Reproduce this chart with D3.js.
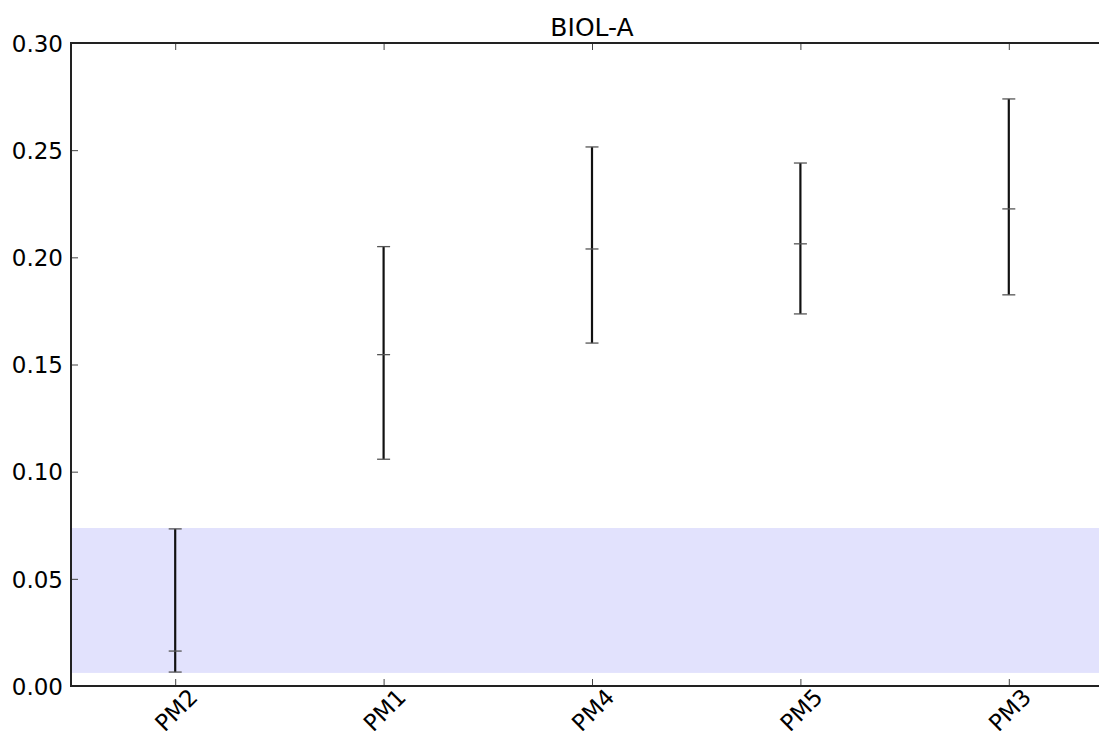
<!DOCTYPE html>
<html>
<head>
<meta charset="utf-8">
<script src="https://cdn.jsdelivr.net/npm/d3@7/dist/d3.min.js"></script>
<style>
  html, body { margin: 0; padding: 0; background: #fff; overflow: hidden; }
  text { font-family: "DejaVu Sans", sans-serif; fill: #000; }
</style>
</head>
<body>
<svg id="chart" width="1099" height="731"></svg>
<script>
// Categories and interval values (lower, centre, upper)
const categories = ["PM2", "PM1", "PM4", "PM5", "PM3"];
const lowerValues = [0.0065, 0.1058, 0.160, 0.1736, 0.1825];
const centerValues = [0.0163, 0.1546, 0.2039, 0.2063, 0.2226];
const upperValues = [0.0733, 0.205, 0.2515, 0.244, 0.2739];
const bandRange = [0.0061, 0.0737];
const yTicks = [0.00, 0.05, 0.10, 0.15, 0.20, 0.25, 0.30];
const title = "BIOL-A";

const svg = d3.select("#chart");
const plotLeft = 71, plotTop = 43, plotBottom = 686, plotRight = 1113;

const x = d3.scalePoint().domain(categories).range([plotLeft, plotRight]).padding(0.5);
const y = d3.scaleLinear().domain([0, 0.30]).range([plotBottom, plotTop]);

// Shaded reference band
svg.append("rect")
  .attr("x", plotLeft).attr("width", plotRight - plotLeft)
  .attr("y", y(bandRange[1]))
  .attr("height", y(bandRange[0]) - y(bandRange[1]))
  .attr("fill", "#e2e2fd");

// Error bars
const rows = categories.map((c, i) => ({ c, lo: lowerValues[i], mid: centerValues[i], hi: upperValues[i] }));
const g = svg.append("g");
rows.forEach(d => {
  const cx = x(d.c);
  g.append("line").attr("x1", cx).attr("x2", cx)
    .attr("y1", y(d.lo)).attr("y2", y(d.hi))
    .attr("stroke", "#111").attr("stroke-width", 2.2);
  [d.lo, d.mid, d.hi].forEach(v => {
    g.append("line").attr("x1", cx - 6.5).attr("x2", cx + 6.5)
      .attr("y1", y(v)).attr("y2", y(v))
      .attr("stroke", "#555").attr("stroke-width", 1.3);
  });
});

// Left axis with inward ticks
const yAxis = d3.axisLeft(y).tickValues(yTicks).tickSize(-7).tickPadding(8)
  .tickFormat(d3.format(".2f"));
const ya = svg.append("g").attr("transform", `translate(${plotLeft},0)`).call(yAxis);
ya.attr("font-family", null).attr("font-size", null);
ya.select(".domain").remove();
ya.selectAll(".tick line").attr("stroke", "#444").attr("stroke-width", 1);
ya.selectAll(".tick text").attr("font-size", 23).attr("dy", "0.36em").attr("fill", "#000");

// Bottom axis with inward ticks
const xAxis = d3.axisBottom(x).tickSize(-7).tickFormat("");
const xa = svg.append("g").attr("transform", `translate(0,${plotBottom})`).call(xAxis);
xa.select(".domain").remove();
xa.selectAll(".tick line").attr("stroke", "#444").attr("stroke-width", 1);

// Top axis ticks
const xTop = d3.axisTop(x).tickSize(-7).tickFormat("");
const xt = svg.append("g").attr("transform", `translate(0,${plotTop})`).call(xTop);
xt.select(".domain").remove();
xt.selectAll(".tick line").attr("stroke", "#444").attr("stroke-width", 1);

// Rotated category labels
svg.append("g").selectAll("text").data(categories).join("text")
  .attr("transform", d => `translate(${x(d) + 1},${plotBottom + 24}) rotate(-45)`)
  .attr("text-anchor", "middle")
  .attr("dy", "0.35em")
  .attr("font-size", 23)
  .text(d => d);

// Frame
svg.append("rect")
  .attr("x", plotLeft).attr("y", plotTop)
  .attr("width", plotRight - plotLeft).attr("height", plotBottom - plotTop)
  .attr("fill", "none").attr("stroke", "#222").attr("stroke-width", 2);

// Title
svg.append("text")
  .attr("x", (plotLeft + plotRight) / 2).attr("y", plotTop - 7)
  .attr("text-anchor", "middle").attr("font-size", 25)
  .text(title);
</script>
</body>
</html>
